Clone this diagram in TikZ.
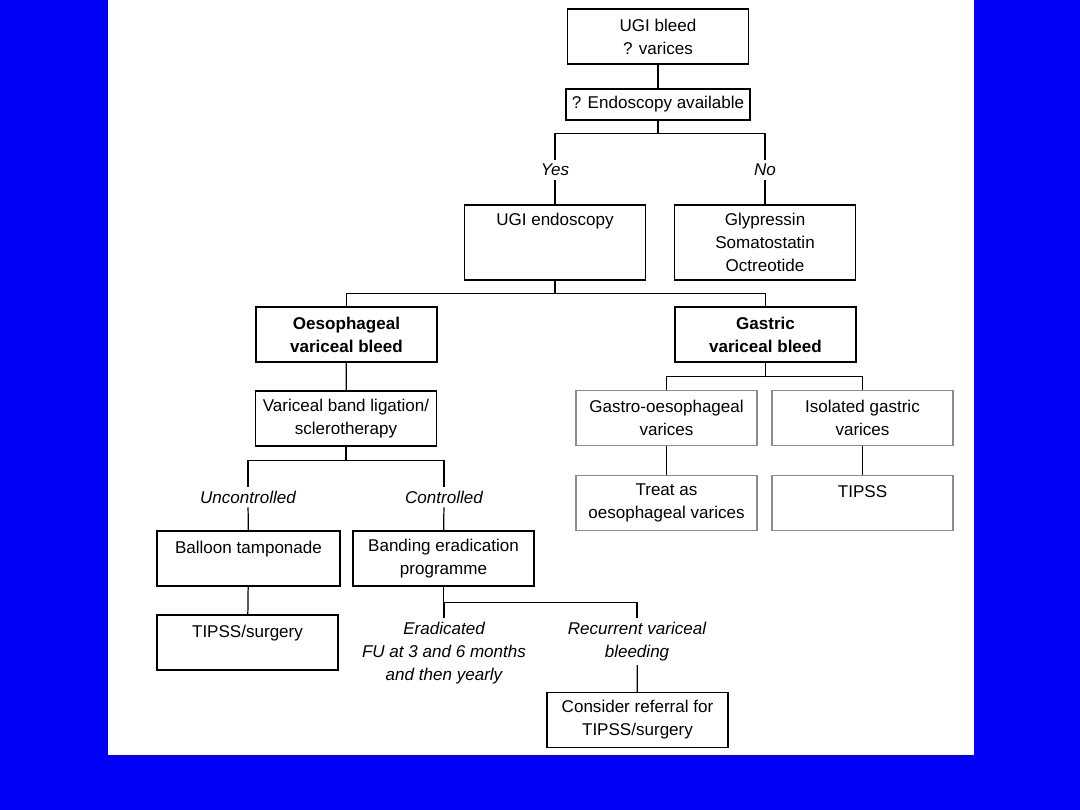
\documentclass[tikz,border=0pt]{standalone}
\usepackage{fontspec}
\setmainfont{Liberation Sans}
\usepackage{tikz}
\usepackage{xcolor}
\definecolor{slideblue}{RGB}{0,0,250}
\definecolor{boxgray}{RGB}{140,140,140}

\begin{document}
\begin{tikzpicture}[x=0.02cm,y=-0.02cm,line width=0.7pt,
  font=\fontsize{9.7}{13.1}\selectfont,
  box/.style={draw,align=center,minimum width=181*0.02cm,minimum height=55*0.02cm,inner sep=0pt},
  graybox/.style={box,draw=boxgray},
  tall/.style={minimum height=75*0.02cm},
  lab/.style={align=center,inner sep=2pt,font=\fontsize{9.7}{13.1}\selectfont\itshape}]
\fill[slideblue] (0,0) rectangle (1080,810);
\fill[white] (108,0) rectangle (974,755);
\node[box] (bleed) at (658,36.5) {UGI bleed\\? varices};
\node[box,minimum width=184*0.02cm,minimum height=31*0.02cm] (avail) at (658,104.5) {? Endoscopy available};
\node[lab] (yes) at (555,170) {Yes};
\node[lab] (no) at (765,170) {No};
\node[box,tall] (ugiendo) at (555,242.5) {UGI endoscopy\\~\\~};
\node[box,tall] (drugs) at (765,242.5) {Glypressin\\Somatostatin\\Octreotide};
\node[box,font=\fontsize{9.7}{13.1}\selectfont\bfseries] (oes) at (346.5,334.5) {Oesophageal\\variceal bleed};
\node[box,font=\fontsize{9.7}{13.1}\selectfont\bfseries] (gas) at (765.5,334.5) {Gastric\\variceal bleed};
\node[box] (band) at (346,418.5) {Variceal band ligation/\\sclerotherapy};
\node[graybox] (gasoes) at (666.5,418) {Gastro-oesophageal\\varices};
\node[graybox] (isol) at (862.5,418) {Isolated gastric\\varices};
\node[graybox] (treat) at (666.5,503) {Treat as\\oesophageal varices};
\node[graybox] (tipss) at (862.5,503) {TIPSS\\~};
\node[lab] (unc) at (248,497) {Uncontrolled};
\node[lab] (con) at (444,497) {Controlled};
\node[box,minimum width=183*0.02cm] (balloon) at (248.5,558.5) {Balloon tamponade\\~};
\node[box] (banding) at (443.5,558.5) {Banding eradication\\programme};
\node[box] (surg) at (247.5,642.5) {TIPSS/surgery\\~};
\node[lab] (erad) at (444,653) {Eradicated\\FU at 3 and 6 months\\and then yearly};
\node[lab] (recur) at (637,641.5) {Recurrent variceal\\bleeding};
\node[box] (refer) at (637.5,720) {Consider referral for\\TIPSS/surgery};

\draw (bleed) -- (avail);
\draw (avail.south) -- ++(0,13) -| (yes) (avail.south) -- ++(0,13) -| (no);
\draw (yes) -- (ugiendo);
\draw (no) -- (drugs);
\draw (ugiendo.south) -- ++(0,13) -| (oes) (ugiendo.south) -- ++(0,13) -| (gas);
\draw (oes) -- (band);
\draw (gas.south) -- ++(0,14) -| (gasoes) (gas.south) -- ++(0,14) -| (isol);
\draw (gasoes) -- (treat);
\draw (isol) -- (tipss);
\draw (band.south) -- ++(0,14) -| (unc) (band.south) -- ++(0,14) -| (con);
\draw (unc) -- (balloon);
\draw (con) -- (banding);
\draw (balloon) -- (surg);
\draw (banding.south) -- ++(0,16) -| (erad) (banding.south) -- ++(0,16) -| (recur);
\draw (recur) -- (refer);
\end{tikzpicture}
\end{document}
